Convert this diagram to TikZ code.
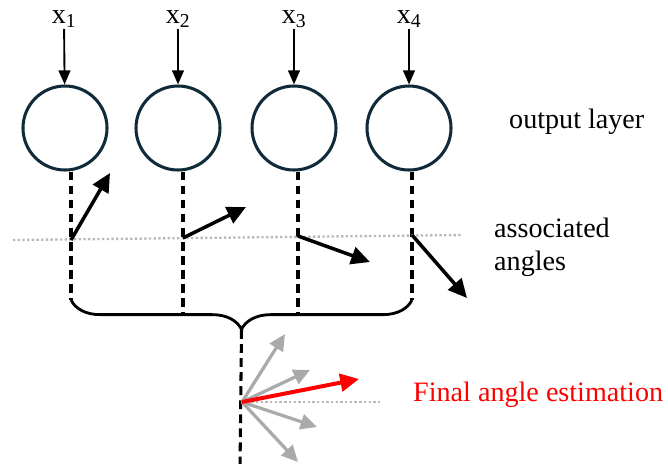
\documentclass[tikz,border=0pt]{standalone}
\usepackage{fontspec}
\setmainfont{Liberation Serif}
\usetikzlibrary{arrows.meta,positioning,calc,decorations.pathreplacing}
\definecolor{ringblue}{RGB}{16,42,58}
\definecolor{dotgray}{RGB}{185,185,185}
\definecolor{fangray}{RGB}{170,170,170}
\tikzset{
    neuron/.style={circle, draw=ringblue, line width=2.6pt, minimum size=2.52cm, inner sep=0pt},
    inlabel/.style={font=\fontsize{24}{28}\selectfont, inner sep=1pt},
    feed/.style={-{Triangle[length=12pt,width=10pt]}, line width=1.6pt},
    stem/.style={dash pattern=on 7.5pt off 4.5pt, line width=2.6pt},
    horizon/.style={dotgray, line width=2pt, dash pattern=on 2pt off 2pt},
    angvec/.style={-{Triangle[length=16pt,width=15pt]}, line width=3pt},
    fanvec/.style={fangray, -{Triangle[length=14pt,width=13pt]}, line width=2.8pt},
    caption/.style={font=\fontsize{24}{28}\selectfont, inner sep=0pt, align=left},
}

\begin{document}
\begin{tikzpicture}[x=0.03cm, y=-0.03cm]
    \useasboundingbox (0,0) rectangle (668,463);

    \node[neuron] (n1) at (65,128) {};
    \node[neuron] (n2) at (178,128) {};
    \node[neuron] (n3) at (294,128) {};
    \node[neuron] (n4) at (409,128) {};

    \node[inlabel, anchor=base] (l1) at (64,23) {x\textsubscript{1}};
    \node[inlabel, anchor=base] (l2) at (178,23) {x\textsubscript{2}};
    \node[inlabel, anchor=base] (l3) at (294,23) {x\textsubscript{3}};
    \node[inlabel, anchor=base] (l4) at (409,23) {x\textsubscript{4}};
    \foreach \i in {1,...,4} \draw[feed] (l\i) -- (n\i);

    \coordinate (d1) at (71,300);
    \coordinate (d2) at (183,316);
    \coordinate (d3) at (298,316);
    \coordinate (d4) at (412,300);
    \foreach \i in {1,...,4} \draw[stem] (n\i.south -| d\i) -- (d\i);

    \coordinate (hl) at (13,240);
    \coordinate (hr) at (463,235);
    \draw[horizon] (hl) -- (hr);

    \coordinate (a1) at (71,240);
    \coordinate (a2) at (183,238);
    \coordinate (a3) at (298,236);
    \coordinate (a4) at (412,235);
    \coordinate (e1) at (110,173);
    \coordinate (e2) at (246,207);
    \coordinate (e3) at (370,262);
    \coordinate (e4) at (467,298);
    \foreach \i in {1,...,4} \draw[angvec] (a\i) -- (e\i);

    \draw[line width=2.4pt, decorate, decoration={brace, amplitude=25pt, mirror}] (d1) -- (d4);
    \coordinate (tip) at (241.5,330);
    \coordinate (bot) at (240,470);
    \draw[stem] (tip) -- (bot);

    \coordinate (fan) at (242,402);
    \coordinate (fanend) at (382,402);
    \draw[horizon] (fan) -- (fanend);
    \draw[fanvec] (fan) -- (285,334);
    \draw[fanvec] (fan) -- (310,370);
    \draw[fanvec] (fan) -- (317,427);
    \draw[fanvec] (fan) -- (298,462);
    \draw[angvec, red, line width=3.4pt] (fan) -- (359,379);

    \node[caption, anchor=base west] (outlbl) at (509,128) {output layer};
    \node[caption, anchor=north west] (anglbl) at (494,218) {associated\\angles};
    \node[caption, red, anchor=base west] (finlbl) at (413,401) {Final angle estimation};
\end{tikzpicture}
\end{document}
